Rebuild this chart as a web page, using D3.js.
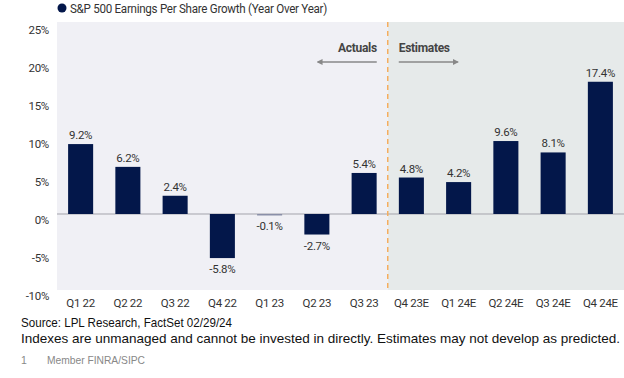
<!DOCTYPE html>
<html lang="en">
<head>
<meta charset="utf-8">
<title>S&amp;P 500 EPS Growth</title>
<script src="https://d3js.org/d3.v7.min.js"></script>
<style>
  body { margin: 0; background: #fff; }
  .cond { font-family: "Roboto", sans-serif; letter-spacing: -0.3px; }
  .note { font-family: "Liberation Sans", Arial, sans-serif; }
</style>
</head>
<body>
<script>
// data
const quarters = ["Q1 22","Q2 22","Q3 22","Q4 22","Q1 23","Q2 23","Q3 23","Q4 23E","Q1 24E","Q2 24E","Q3 24E","Q4 24E"];
const growth = [9.2, 6.2, 2.4, -5.8, -0.1, -2.7, 5.4, 4.8, 4.2, 9.6, 8.1, 17.4];
const yTicks = [-10, -5, 0, 5, 10, 15, 20, 25];
const firstEstimate = "Q4 23E";

const width = 624, height = 378;
const svg = d3.select("body").append("svg")
  .attr("width", width).attr("height", height);

const x = d3.scaleBand().domain(quarters).range([57, 624]).paddingInner(0.47).paddingOuter(0.235);
const y = d3.scaleLinear().domain([-10, 25]).range([290, 24]);

// backgrounds
const splitX = x(firstEstimate) - x.step() * x.paddingInner() / 2;
svg.append("rect").attr("x", 57).attr("y", 22).attr("width", splitX - 57).attr("height", 268).attr("fill", "#f0f0f5");
svg.append("rect").attr("x", splitX).attr("y", 22).attr("width", 624 - splitX).attr("height", 268).attr("fill", "#e6eaea");

// zero line
svg.append("line").attr("x1", 57).attr("x2", 624).attr("y1", y(0)).attr("y2", y(0))
  .attr("stroke", "#a3a3ab").attr("stroke-width", 1);

// dashed divider
svg.append("line").attr("x1", splitX).attr("x2", splitX).attr("y1", 22).attr("y2", 290)
  .attr("stroke", "#f5ad5e").attr("stroke-width", 1.5).attr("stroke-dasharray", "5,4");

// y axis labels
svg.append("g").selectAll("text").data(yTicks).join("text")
  .attr("class", "cond")
  .attr("x", 49).attr("y", d => y(d) + 10)
  .attr("text-anchor", "end").attr("font-size", 11.5).attr("fill", "#333")
  .text(d => d + "%");

// bars
svg.append("g").selectAll("rect").data(growth).join("rect")
  .attr("x", (d, i) => x(quarters[i]))
  .attr("width", x.bandwidth())
  .attr("y", d => y(Math.max(0, d)))
  .attr("height", d => Math.max(Math.abs(y(d) - y(0)), 1.5))
  .attr("fill", d => d < 0 && d > -0.5 ? "#8a8fa8" : "#03174a");

// value labels
svg.append("g").selectAll("text").data(growth).join("text")
  .attr("class", "cond")
  .attr("x", (d, i) => x(quarters[i]) + x.bandwidth() / 2)
  .attr("y", d => d >= 0 ? y(d) - 5 : y(d) + 15)
  .attr("text-anchor", "middle").attr("font-size", 11.5).attr("fill", "#333")
  .text(d => d.toFixed(1) + "%");

// x labels
svg.append("g").selectAll("text").data(quarters).join("text")
  .attr("class", "cond")
  .attr("x", d => x(d) + x.bandwidth() / 2)
  .attr("y", 307)
  .attr("text-anchor", "middle").attr("font-size", 11.5).attr("fill", "#333")
  .text(d => d);

// actuals / estimates arrows
const defs = svg.append("defs");
defs.append("marker").attr("id", "ah").attr("viewBox", "0 0 10 10")
  .attr("refX", 8).attr("refY", 5).attr("markerWidth", 4).attr("markerHeight", 4)
  .attr("orient", "auto-start-reverse")
  .append("path").attr("d", "M0,0L10,5L0,10z").attr("fill", "#888");

svg.append("text").attr("class", "cond").attr("x", splitX - 11).attr("y", 52)
  .attr("text-anchor", "end").attr("font-size", 12).attr("font-weight", "bold").attr("fill", "#444")
  .text("Actuals");
svg.append("text").attr("class", "cond").attr("x", splitX + 11).attr("y", 52)
  .attr("font-size", 12).attr("font-weight", "bold").attr("fill", "#444")
  .text("Estimates");
svg.append("line").attr("x1", splitX - 11).attr("x2", splitX - 70).attr("y1", 62).attr("y2", 62)
  .attr("stroke", "#888").attr("stroke-width", 1.5).attr("marker-end", "url(#ah)");
svg.append("line").attr("x1", splitX + 11).attr("x2", splitX + 70).attr("y1", 62).attr("y2", 62)
  .attr("stroke", "#888").attr("stroke-width", 1.5).attr("marker-end", "url(#ah)");

// title
svg.append("circle").attr("cx", 62).attr("cy", 8).attr("r", 4.5).attr("fill", "#03174a");
svg.append("text").attr("class", "cond").attr("x", 70).attr("y", 12.5)
  .attr("font-size", 12.5).attr("fill", "#333")
  .attr("textLength", 257).attr("lengthAdjust", "spacingAndGlyphs")
  .text("S&P 500 Earnings Per Share Growth (Year Over Year)");

// footnotes
svg.append("text").attr("class", "note").attr("x", 21).attr("y", 327)
  .attr("font-size", 13).attr("fill", "#111")
  .attr("textLength", 211).attr("lengthAdjust", "spacingAndGlyphs")
  .text("Source: LPL Research, FactSet 02/29/24");
svg.append("text").attr("class", "note").attr("x", 21).attr("y", 343)
  .attr("font-size", 13).attr("fill", "#111")
  .attr("textLength", 599).attr("lengthAdjust", "spacingAndGlyphs")
  .text("Indexes are unmanaged and cannot be invested in directly. Estimates may not develop as predicted.");
svg.append("text").attr("class", "note").attr("x", 21).attr("y", 364)
  .attr("font-size", 10.5).attr("fill", "#888")
  .text("1");
svg.append("text").attr("class", "note").attr("x", 47).attr("y", 364)
  .attr("font-size", 10.5).attr("fill", "#888")
  .attr("textLength", 98).attr("lengthAdjust", "spacingAndGlyphs")
  .text("Member FINRA/SIPC");
</script>
</body>
</html>
